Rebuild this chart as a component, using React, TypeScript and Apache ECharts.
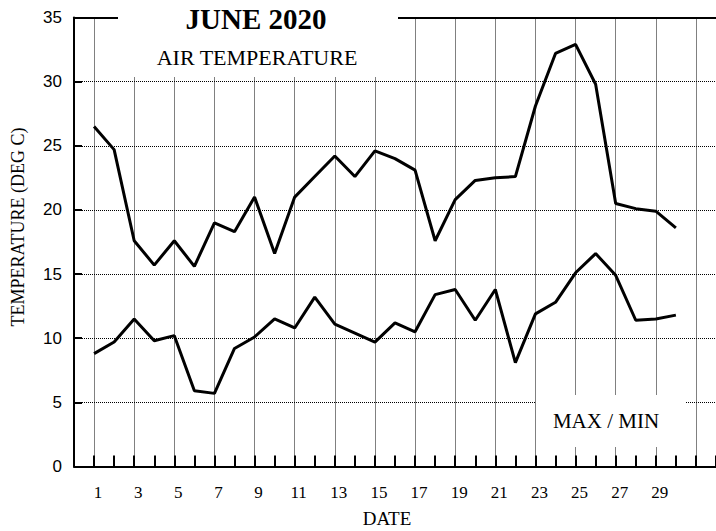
import React, { useEffect, useRef } from "react";
import * as echarts from "echarts";

// Daily air temperature, June 2020 (deg C)
const days: number[] = [
  1, 2, 3, 4, 5, 6, 7, 8, 9, 10, 11, 12, 13, 14, 15,
  16, 17, 18, 19, 20, 21, 22, 23, 24, 25, 26, 27, 28, 29, 30,
];
const maxTemps: number[] = [
  26.5, 24.7, 17.6, 15.7, 17.6, 15.6, 19.0, 18.3, 21.0, 16.6,
  21.0, 22.6, 24.2, 22.6, 24.6, 24.0, 23.1, 17.6, 20.8, 22.3,
  22.5, 22.6, 28.1, 32.2, 32.9, 29.8, 20.5, 20.1, 19.9, 18.6,
];
const minTemps: number[] = [
  8.8, 9.7, 11.5, 9.8, 10.2, 5.9, 5.7, 9.2, 10.1, 11.5,
  10.8, 13.2, 11.1, 10.4, 9.7, 11.2, 10.5, 13.4, 13.8, 11.4,
  13.8, 8.1, 11.9, 12.8, 15.1, 16.6, 14.9, 11.4, 11.5, 11.8,
];
// axis runs from day 0 to day 32; only odd days up to 29 are labelled
const axisDays: string[] = [
  "0", "1", "2", "3", "4", "5", "6", "7", "8", "9", "10", "11", "12", "13", "14", "15", "16",
  "17", "18", "19", "20", "21", "22", "23", "24", "25", "26", "27", "28", "29", "30", "31", "32",
];
const lastLabelledDay = 29;
const yMin = 0;
const yMax = 35;
const yStep = 5;

const SERIF = "'Liberation Serif', 'Times New Roman', serif";
const SANS = "'Liberation Sans', Arial, sans-serif";
const DOT: number[] = [1, 1];

export default function App() {
  const ref = useRef<HTMLDivElement>(null);

  useEffect(() => {
    document.body.style.margin = "0";
    if (!ref.current) return;
    const chart = echarts.init(ref.current, null, { renderer: "svg" });

    const toPairs = (vals: number[]) => days.map((d, i) => [String(d), vals[i]]);
    const isOdd = (index: number) => index % 2 === 1;

    chart.setOption({
      animation: false,
      backgroundColor: "#ffffff",
      grid: { left: 74, top: 17.5, width: 642, height: 449, containLabel: false },
      xAxis: [
        {
          type: "category",
          data: axisDays,
          boundaryGap: false,
          position: "bottom",
          axisLine: { show: true, lineStyle: { color: "#000", width: 2 } },
          axisTick: { show: true, inside: true, length: 11, interval: 0, lineStyle: { color: "#000", width: 2 } },
          axisLabel: {
            interval: (index: number) => isOdd(index) && index <= lastLabelledDay,
            color: "#000",
            fontFamily: SERIF,
            fontSize: 17,
            margin: 17,
            padding: [0, 0, 0, 8],
          },
          splitLine: {
            show: true,
            interval: (index: number) => isOdd(index),
            lineStyle: { color: "#000", width: 1, type: DOT },
          },
        },
        {
          type: "category",
          data: axisDays,
          boundaryGap: false,
          position: "top",
          axisLine: { show: true, lineStyle: { color: "#000", width: 2 } },
          axisTick: { show: false },
          axisLabel: { show: false },
          splitLine: { show: false },
        },
      ],
      yAxis: {
        type: "value",
        min: yMin,
        max: yMax,
        interval: yStep,
        axisLine: { show: true, lineStyle: { color: "#000", width: 2 } },
        axisTick: { show: true, inside: true, length: 8, lineStyle: { color: "#000", width: 2 } },
        axisLabel: { color: "#000", fontFamily: SANS, fontSize: 17, margin: 12 },
        splitLine: { show: true, lineStyle: { color: "#000", width: 1, type: DOT } },
      },
      series: [
        {
          name: "MAX",
          type: "line",
          data: toPairs(maxTemps),
          showSymbol: false,
          symbol: "none",
          lineStyle: { color: "#000", width: 3 },
          z: 3,
        },
        {
          name: "MIN",
          type: "line",
          data: toPairs(minTemps),
          showSymbol: false,
          symbol: "none",
          lineStyle: { color: "#000", width: 3 },
          z: 3,
        },
      ],
      graphic: [
        // title panel breaking the top border
        { type: "rect", z: 20, shape: { x: 118, y: 0, width: 280, height: 77 }, style: { fill: "#fff" } },
        {
          type: "text", z: 21, x: 256, y: 19,
          style: { text: "JUNE 2020", fontFamily: SERIF, fontSize: 29, fontWeight: "bold", fill: "#000", align: "center", verticalAlign: "middle" },
        },
        {
          type: "text", z: 21, x: 257, y: 57,
          style: { text: "AIR TEMPERATURE", fontFamily: SERIF, fontSize: 22, fill: "#000", align: "center", verticalAlign: "middle" },
        },
        // legend panel
        { type: "rect", z: 20, shape: { x: 536, y: 395, width: 149, height: 52 }, style: { fill: "#fff" } },
        {
          type: "text", z: 21, x: 606, y: 421,
          style: { text: "MAX / MIN", fontFamily: SERIF, fontSize: 21, fill: "#000", align: "center", verticalAlign: "middle" },
        },
        // axis names
        {
          type: "text", z: 21, x: 18, y: 227, rotation: Math.PI / 2,
          style: { text: "TEMPERATURE (DEG C)", fontFamily: SERIF, fontSize: 18, fill: "#000", align: "center", verticalAlign: "middle" },
        },
        {
          type: "text", z: 21, x: 387, y: 518,
          style: { text: "DATE", fontFamily: SERIF, fontSize: 19, fill: "#000", align: "center", verticalAlign: "middle" },
        },
      ],
    });

    return () => chart.dispose();
  }, []);

  return <div ref={ref} style={{ width: 716, height: 531 }} />;
}
